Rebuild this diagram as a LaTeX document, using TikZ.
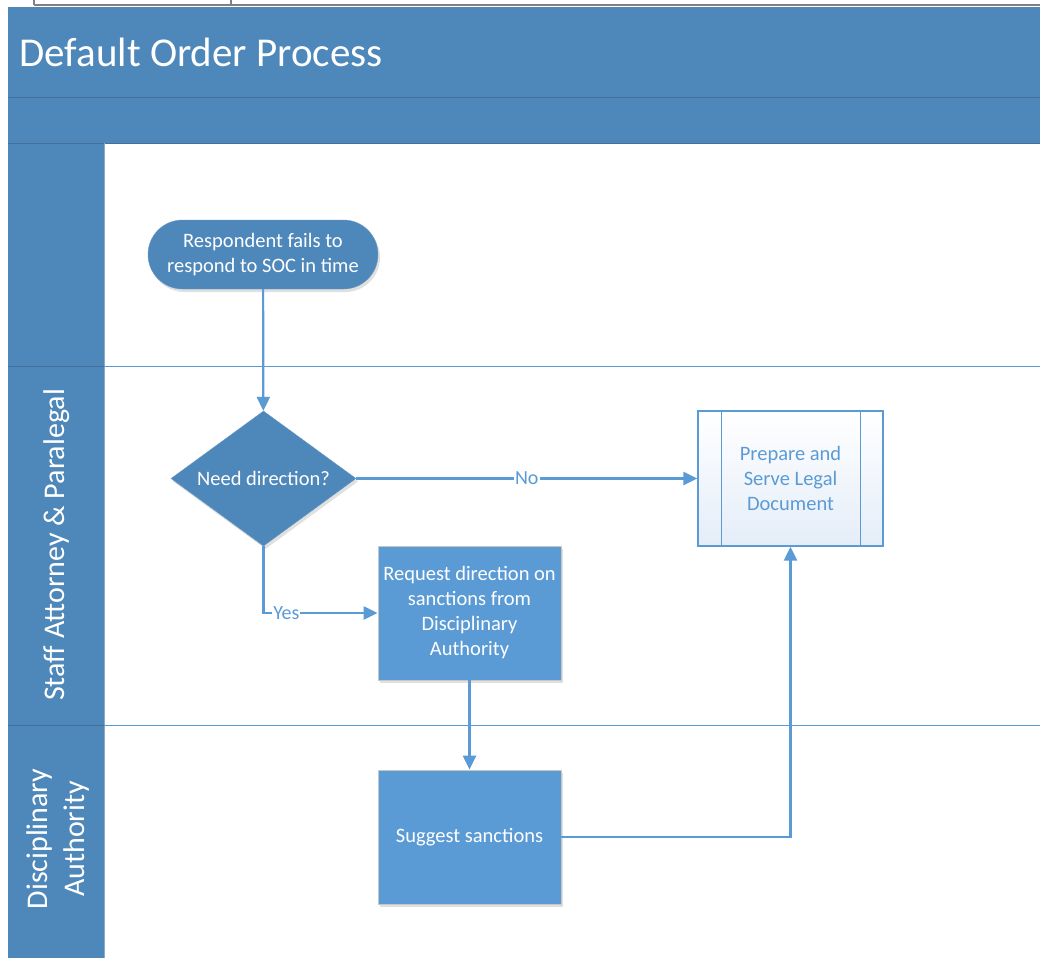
\documentclass[tikz,border=0pt]{standalone}
\usepackage{fontspec}
\setmainfont{Carlito}
\usetikzlibrary{shapes.geometric,shapes.misc,arrows.meta,shadows}
\definecolor{hdr}{HTML}{4E87BA}
\definecolor{hdrline}{HTML}{41719C}
\definecolor{proc}{HTML}{5B9BD5}
\definecolor{lnk}{HTML}{5B9BD5}
\definecolor{frame}{HTML}{808080}
\definecolor{pale}{HTML}{E4EDF8}
\begin{document}
\begin{tikzpicture}[x=1pt,y=-1pt,
  every node/.style={font=\fontsize{20.5}{25}\selectfont, align=center},
  soft/.style={drop shadow={shadow xshift=2pt,shadow yshift=-3pt,fill=black,opacity=0.12}},
  terminal/.style={rounded rectangle, fill=hdr, draw=hdr!85!white, text=white,
    minimum width=230pt, minimum height=69pt, inner sep=0pt, soft},
  decision/.style={diamond, fill=hdr, draw=hdr!85!white, text=white, aspect=1.37,
    minimum width=185pt, minimum height=135pt, inner sep=0pt, soft},
  procbox/.style={rectangle, fill=proc, draw=black!22, line width=0.8pt, text=white,
    minimum width=183pt, minimum height=134pt, inner sep=2pt, soft},
  subproc/.style={rectangle, top color=white, bottom color=pale, draw=lnk, line width=1.3pt,
    text=lnk, minimum width=185pt, minimum height=135pt, inner sep=2pt},
  conn/.style={draw=lnk, line width=2.2pt, -{Triangle[length=14pt,width=13pt]}},
  lbl/.style={fill=white, text=lnk, inner sep=1pt, font=\fontsize{20}{22}\selectfont},
  lanelbl/.style={text=white, rotate=90, font=\fontsize{30}{37}\selectfont}]
\useasboundingbox (0,0) rectangle (1040,958);
\fill[white] (0,0) rectangle (1040,958);

% frame of the surrounding cell
\draw[frame, line width=1.6pt] (34,5) -- (1040,5);
\draw[frame, line width=1.6pt] (34,0) -- (34,5);
\draw[frame, line width=1.6pt] (231,0) -- (231,5);

% pool header and lane title column
\fill[hdr] (8,7) rectangle (1040,143);
\fill[hdr] (8,143) rectangle (104,958);
\draw[hdrline, line width=1pt] (8,97) -- (1040,97);
\draw[hdrline, line width=1pt] (8,143) -- (1040,143);
\draw[hdrline, line width=1pt] (8,366) -- (104,366);
\draw[hdrline, line width=1pt] (8,725) -- (104,725);
\draw[hdrline!60!white, line width=0.6pt] (104,143) -- (104,958);
\draw[lnk, line width=0.8pt] (104,366) -- (1040,366);
\draw[lnk, line width=0.8pt] (104,725) -- (1040,725);

\node[anchor=west, text=white, font=\fontsize{41}{46}\selectfont] (title) at (16,52) {Default Order Process};

% lane titles
\node[lanelbl] (laneA) at (57,545) {Staff Attorney \& Paralegal};
\node[lanelbl] (laneB) at (58,839) {Disciplinary\\Authority};

% flow shapes
\node[terminal] (start) at (263,254.5) {Respondent fails to\\respond to SOC in time};
\node[decision] (dec) at (263.5,478.5) {Need direction?};
\node[subproc] (prep) at (790.5,478.5) {Prepare and\\Serve Legal\\Document};
\draw[lnk, line width=1.3pt] ([xshift=24pt]prep.north west) -- ([xshift=24pt]prep.south west);
\draw[lnk, line width=1.3pt] ([xshift=-23pt]prep.north east) -- ([xshift=-23pt]prep.south east);
\node[procbox] (req) at (469.5,613) {Request direction on\\sanctions from\\Disciplinary\\Authority};
\node[procbox] (sug) at (469.5,837) {Suggest sanctions};

% connectors
\draw[conn] (start) -- (dec);
\draw[conn] (dec) -- node[lbl] {No} (prep);
\draw[conn] (dec.south) |- node[lbl, pos=0.6] {Yes} (req.west);
\draw[conn] (req) -- (sug);
\draw[conn] (sug.east) -| (prep.south);
\end{tikzpicture}
\end{document}
